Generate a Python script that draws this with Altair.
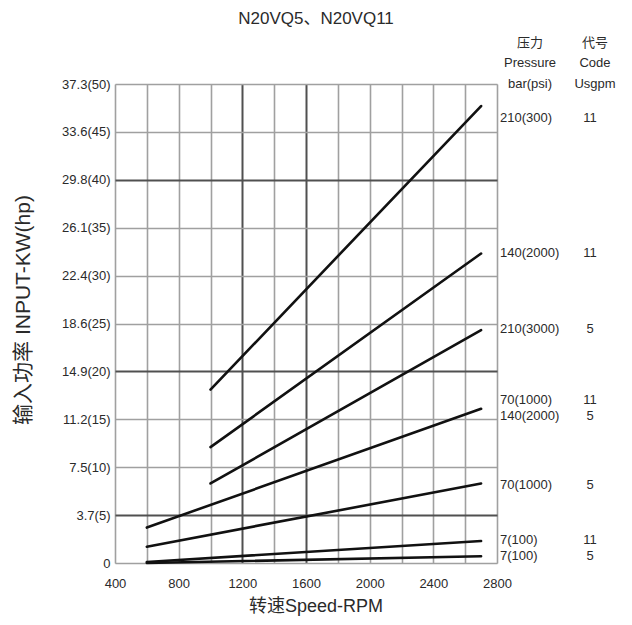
import altair as alt
import pandas as pd

# ---- data (hp on the linear scale; kW(hp) shown as labels) ----
series = ["210-11", "140-11", "210-5", "70-11/140-5", "70-5", "7-11", "7-5"]
rpm_start = [1000, 1000, 1000, 600, 600, 600, 600]
rpm_end = [2700, 2700, 2700, 2700, 2700, 2700, 2700]
hp_start = [18.1, 12.1, 8.3, 3.7, 1.7, 0.1, 0.0]
hp_end = [47.7, 32.3, 24.3, 16.1, 8.3, 2.3, 0.7]

label_hp = [46.5, 32.4, 24.4, 17.0, 15.3, 8.1, 2.4, 0.7]
pressure_labels = ["210(300)", "140(2000)", "210(3000)", "70(1000)", "140(2000)", "70(1000)", "7(100)", "7(100)"]
code_labels = ["11", "11", "5", "11", "5", "5", "11", "5"]

y_ticks = [0, 5, 10, 15, 20, 25, 30, 35, 40, 45, 50]
y_tick_labels = ["0", "3.7(5)", "7.5(10)", "11.2(15)", "14.9(20)", "18.6(25)",
                 "22.4(30)", "26.1(35)", "29.8(40)", "33.6(45)", "37.3(50)"]
y_dark = [5, 20, 40]
x_ticks = list(range(400, 2801, 200))
x_dark = [1200, 1600]

FONT = "Liberation Sans, Arial, Noto Sans CJK SC"
TXT = "#2a2a2a"

rows = []
for s, r0, r1, h0, h1 in zip(series, rpm_start, rpm_end, hp_start, hp_end):
    rows.append({"series": s, "rpm": r0, "hp": h0})
    rows.append({"series": s, "rpm": r1, "hp": h1})
lines_df = pd.DataFrame(rows)

labels_df = pd.DataFrame({"hp": label_hp, "p": pressure_labels, "c": code_labels})

y_expr = " : ".join(f"datum.value == {v} ? '{t}'" for v, t in zip(y_ticks, y_tick_labels)) + " : ''"
y_dark_test = " || ".join(f"datum.value == {v}" for v in y_dark)
x_dark_test = " || ".join(f"datum.value == {v}" for v in x_dark)

x_scale = alt.Scale(domain=[400, 2800], nice=False, zero=False)
y_scale = alt.Scale(domain=[0, 50], nice=False)

x_enc = alt.X("rpm:Q", scale=x_scale, title=None,
              axis=alt.Axis(values=x_ticks, ticks=False, domain=False, labelFlush=False,
                            labelExpr="datum.value % 400 == 0 ? format(datum.value, 'd') : ''",
                            labelFont=FONT, labelFontSize=13, labelColor=TXT, labelPadding=14,
                            gridColor={"condition": {"test": x_dark_test, "value": "#505050"}, "value": "#a0a0a0"},
                            gridWidth={"condition": {"test": x_dark_test, "value": 2}, "value": 1.6},
                            gridOpacity=1))
y_enc = alt.Y("hp:Q", scale=y_scale, title=None,
              axis=alt.Axis(values=y_ticks, ticks=False, domain=False, labelExpr=y_expr, labelFlush=False,
                            labelFont=FONT, labelFontSize=13, labelColor=TXT, labelPadding=5,
                            gridColor={"condition": {"test": y_dark_test, "value": "#505050"}, "value": "#a0a0a0"},
                            gridWidth={"condition": {"test": y_dark_test, "value": 2}, "value": 1.4},
                            gridOpacity=1))

lines = alt.Chart(lines_df).mark_line(color="#111111", strokeWidth=2.6, strokeCap="round").encode(
    x=x_enc, y=y_enc, detail="series:N")

plab = alt.Chart(labels_df).mark_text(align="left", baseline="middle", font=FONT, fontSize=13, color=TXT).encode(
    x=alt.value(385), y=alt.Y("hp:Q", scale=y_scale), text="p:N")
clab = alt.Chart(labels_df).mark_text(align="center", baseline="middle", font=FONT, fontSize=13, color=TXT).encode(
    x=alt.value(475), y=alt.Y("hp:Q", scale=y_scale), text="c:N")


def ann(text, x, y, size, angle=0):
    return alt.Chart(pd.DataFrame({"t": [text]})).mark_text(
        align="center", baseline="middle", font=FONT, fontSize=size, color=TXT, angle=angle
    ).encode(x=alt.value(x), y=alt.value(y), text="t:N")


annotations = [
    ann("N20VQ5、N20VQ11", 201, -65, 17),
    ann("压力", 415, -41, 13),
    ann("Pressure", 415, -21, 13),
    ann("bar(psi)", 415, 0, 13),
    ann("代号", 480, -41, 13),
    ann("Code", 480, -21, 13),
    ann("Usgpm", 480, 0, 13),
    ann("转速Speed-RPM", 201, 523, 18),
    ann("输入功率 INPUT-KW(hp)", -91, 226, 21, angle=270),
]

chart = alt.layer(lines, plab, clab, *annotations).properties(
    width=382, height=479,
    autosize=alt.AutoSizeParams(type="none"),
    padding={"left": 107, "top": 76, "right": 125, "bottom": 60},
).configure_view(stroke="#505050", strokeWidth=1.8).configure(background="white")

chart.save("out.html", embed_options={"renderer": "svg", "actions": False})
